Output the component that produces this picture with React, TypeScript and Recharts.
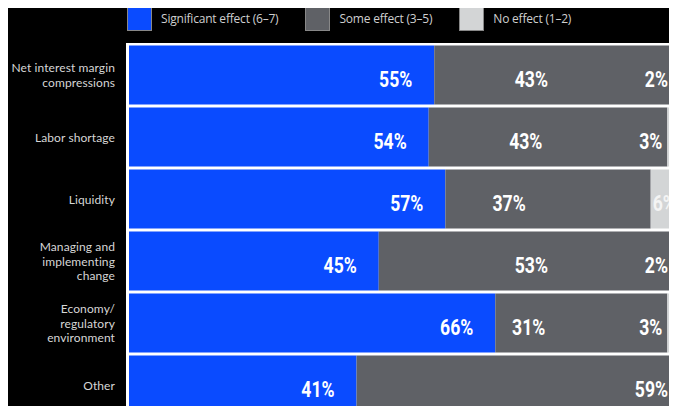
import React from 'react';
import { BarChart, Bar, XAxis, YAxis, Legend, LabelList } from 'recharts';

const categories = [
  'Net interest margin\ncompressions',
  'Labor shortage',
  'Liquidity',
  'Managing and\nimplementing\nchange',
  'Economy/\nregulatory\nenvironment',
  'Other',
];
const significantEffect = [55, 54, 57, 45, 66, 41];
const someEffect = [43, 43, 37, 53, 31, 59];
const noEffect = [2, 3, 6, 2, 3, 0];
const seriesNames = ['Significant effect (6–7)', 'Some effect (3–5)', 'No effect (1–2)'];
const seriesColors = ['#0a4bff', '#5f6166', '#d3d5d6'];

const data = categories.map((c, i) => ({
  category: c,
  sig: significantEffect[i],
  some: someEffect[i],
  none: noEffect[i],
}));

const valueFont = "'Roboto', 'Open Sans', sans-serif";
const textFont = "'Open Sans', 'Noto Sans', sans-serif";
const tickFont = "'Lato', 'Open Sans', sans-serif";

const CategoryTick = (props: any) => {
  const { x, y, payload } = props;
  const lines = String(payload.value).split('\n');
  const lh = 14.5;
  return (
    <g>
      {lines.map((l, i) => (
        <text
          key={i}
          x={x}
          y={y + (i - (lines.length - 1) / 2) * lh + 4.5}
          textAnchor="end"
          fill="#d6d6d6"
          fontSize={12}
          fontFamily={tickFont}
          letterSpacing={0.1}
        >
          {l}
        </text>
      ))}
    </g>
  );
};

const makeLabel = (kind: 'sig' | 'some' | 'none') => (props: any) => {
  const { x, y, width, height, value, index } = props;
  if (!value) return null;
  let tx = x + width - 22;
  let anchor: 'end' | 'start' = 'end';
  if (kind === 'some') {
    tx = noEffect[index] === 0 ? x + width - 16 : Math.max(x + width - 125, x + 50);
  } else if (kind === 'none') {
    if (width < 20) {
      tx = x - 5;
    } else {
      tx = x + 2;
      anchor = 'start';
    }
  }
  const ty = y + height / 2 + 12;
  return (
    <text
      transform={`translate(${tx},${ty}) scale(0.8,1)`}
      x={0}
      y={0}
      textAnchor={anchor}
      fill={kind === 'none' && width >= 20 ? '#f4f4f4' : '#ffffff'}
      fontSize={22}
      fontWeight={700}
      fontFamily={valueFont}
    >
      {value}%
    </text>
  );
};

const renderLegend = () => (
  <div
    style={{
      display: 'flex',
      alignItems: 'center',
      height: 44,
      paddingLeft: 127,
      paddingBottom: 8,
      boxSizing: 'border-box',
      fontFamily: textFont,
      fontSize: 12,
      color: '#cfcfcf',
      letterSpacing: -0.2,
    }}
  >
    {seriesNames.map((n, i) => (
      <div key={n} style={{ display: 'flex', alignItems: 'center', marginRight: 27 }}>
        <div
          style={{
            width: 25,
            height: 25,
            background: seriesColors[i],
            border: '1px solid #888',
            boxSizing: 'border-box',
            marginRight: 9,
          }}
        />
        <span>{n}</span>
      </div>
    ))}
  </div>
);

export default function App() {
  return (
    <div
      style={{
        margin: -8,
        width: 677,
        height: 414,
        overflow: 'hidden',
        background: '#000',
        position: 'relative',
      }}
    >
      <div
        style={{ position: 'absolute', left: 126, top: 43, right: 0, bottom: 0, background: '#fff' }}
      />
      <div style={{ position: 'absolute', left: 0, top: 0 }}>
        <BarChart
          width={684}
          height={416}
          data={data}
          layout="vertical"
          margin={{ top: 0, right: 0, bottom: 0, left: 0 }}
          barCategoryGap={1.5}
        >
          <Legend verticalAlign="top" align="left" content={renderLegend} />
          <XAxis type="number" domain={[0, 100]} hide />
          <YAxis
            type="category"
            dataKey="category"
            width={129}
            axisLine={false}
            tickLine={false}
            tickSize={0}
            tickMargin={14}
            tick={<CategoryTick />}
            interval={0}
          />
          <Bar dataKey="sig" stackId="a" fill={seriesColors[0]} isAnimationActive={false}>
            <LabelList dataKey="sig" content={makeLabel('sig')} />
          </Bar>
          <Bar dataKey="some" stackId="a" fill={seriesColors[1]} isAnimationActive={false}>
            <LabelList dataKey="some" content={makeLabel('some')} />
          </Bar>
          <Bar dataKey="none" stackId="a" fill={seriesColors[2]} isAnimationActive={false}>
            <LabelList dataKey="none" content={makeLabel('none')} />
          </Bar>
        </BarChart>
      </div>
    </div>
  );
}
